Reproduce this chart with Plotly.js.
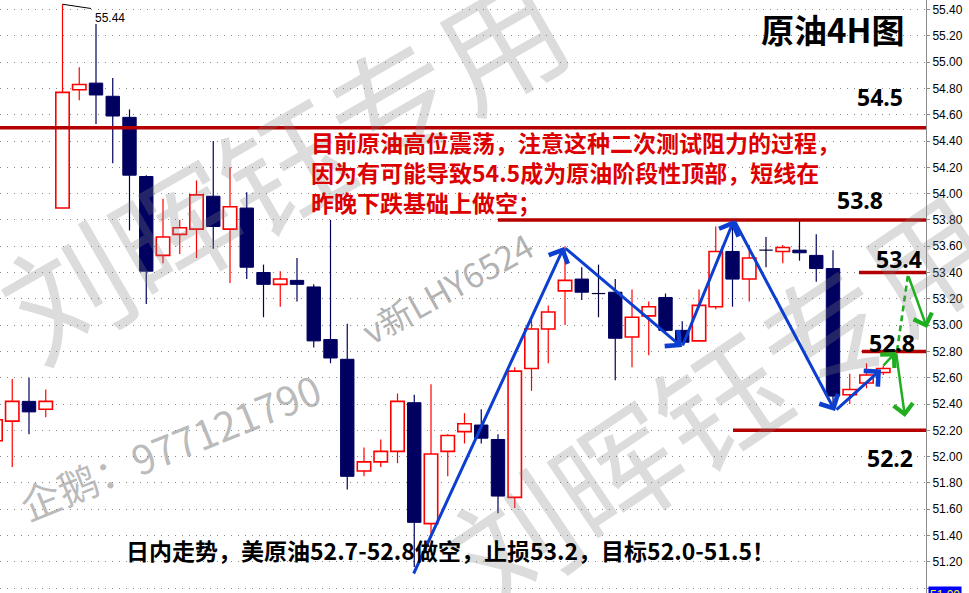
<!DOCTYPE html>
<html>
<head>
<meta charset="utf-8">
<script src="https://cdn.plot.ly/plotly-3.0.1.min.js"></script>
<style>
html,body{margin:0;padding:0;background:#fff;overflow:hidden}
#chart{width:969px;height:593px}
</style>
</head>
<body>
<div id="chart"></div>
<script>
// ---- data: crude oil 4H candles ----
const openP  = [52.12,52.27,52.42,52.36,53.89,54.79,54.84,54.74,54.58,54.13,
                53.53,53.69,53.73,53.98,53.73,53.89,53.40,53.31,53.34,53.29,
                52.89,52.74,51.89,51.96,52.04,52.41,51.49,52.04,52.19,52.24,
                52.13,51.69,52.67,52.97,53.26,53.35,53.24,53.25,52.91,53.07,
                53.21,52.96,52.88,53.14,53.56,53.35,53.57,53.56,53.57,53.53,
                53.43,52.47,52.56,52.64];
const highP  = [52.30,52.59,52.60,52.51,55.44,54.96,55.29,54.88,54.64,54.14,
                53.96,53.80,54.10,54.40,54.20,54.01,53.46,53.41,53.51,53.31,
                53.80,53.01,52.07,52.13,52.48,52.47,52.55,52.17,52.33,52.36,
                52.17,52.68,53.04,53.15,53.60,53.44,53.46,53.35,53.27,53.18,
                53.24,53.03,53.27,53.75,53.80,53.61,53.67,53.61,53.79,53.69,
                53.57,52.63,52.71,52.69];
const lowP   = [52.05,51.92,52.17,52.30,53.89,54.71,54.53,54.23,53.72,53.16,
                53.47,53.54,53.51,53.58,53.32,53.35,53.06,53.14,53.18,52.83,
                52.71,51.75,51.85,51.92,51.95,51.16,51.40,51.85,52.10,52.10,
                51.57,51.61,52.50,52.71,53.00,53.19,53.06,52.58,52.68,52.77,
                52.94,52.86,52.88,53.12,53.14,53.18,53.44,53.47,53.49,53.33,
                52.39,52.40,52.52,52.62];
const closeP = [52.28,52.42,52.34,52.42,54.77,54.83,54.75,54.59,54.14,53.41,
                53.67,53.74,53.99,53.75,53.90,53.44,53.31,53.35,53.31,52.88,
                52.75,51.85,51.96,52.04,52.42,51.50,52.02,52.16,52.25,52.14,
                51.70,52.65,52.97,53.10,53.34,53.25,53.24,52.90,53.06,53.14,
                52.96,52.87,53.15,53.56,53.35,53.51,53.57,53.59,53.55,53.43,
                52.46,52.51,52.62,52.67];
const peakValue   = 55.44;
const peakLabel   = '55.44';
const levels      = [54.5, 53.8, 53.4, 52.8, 52.2];
const levelLabels = ['54.5', '53.8', '53.4', '52.8', '52.2'];
const title       = '原油4H图';
const noteLines   = ['目前原油高位震荡，注意这种二次测试阻力的过程，',
                     '因为有可能导致54.5成为原油阶段性顶部，短线在',
                     '昨晚下跌基础上做空；'];
const planText    = '日内走势，美原油52.7-52.8做空，止损53.2，目标52.0-51.5！';
const watermarkA  = '刘晖钰专用';
const watermarkB  = 'v新LHY6524';
const watermarkC  = '企鹅：977121790';
const lastBoxLabel = '51.00';

// ---- geometry helpers (pixel -> axis units for the hand-drawn overlays) ----
const X0PX = -4.5, XSTEP = 16.75, YREFV = 55.4, YREFPX = 9.5, PPU = 131.5, PLOTW = 926, PLOTH = 593;
const px2x = p => (p - X0PX) / XSTEP;
const py2y = p => YREFV - (p - YREFPX) / PPU;
const pxp = p => p / PLOTW;
const pyp = p => 1 - p / PLOTH;

const RED = '#ff0000', NAVY = '#000060', DOJI = '#000030';
const LVL = '#b40000', BLUE = '#0c3fd0', GREEN = '#1fae1f';

const idx = openP.map((_, i) => i);
const up = idx.filter(i => closeP[i] > openP[i]);
const dn = idx.filter(i => closeP[i] < openP[i]);
const dj = idx.filter(i => closeP[i] === openP[i]);

function wicks(list) {
  const x = [], y = [];
  list.forEach(i => {
    const t = Math.max(openP[i], closeP[i]), b = Math.min(openP[i], closeP[i]);
    if (highP[i] > t) { x.push(i, i, null); y.push(t, highP[i], null); }
    if (lowP[i] < b) { x.push(i, i, null); y.push(b, lowP[i], null); }
  });
  return {x, y};
}
const BW = 0.8;
const wu = wicks(up), wd = wicks(dn);
const djx = [], djy = [];
dj.forEach(i => {
  djx.push(i, i, null, i - BW / 2, i + BW / 2, null);
  djy.push(lowP[i], highP[i], null, openP[i], openP[i], null);
});

const traces = [
  {type:'scatter', mode:'lines', x:wu.x, y:wu.y, line:{color:RED, width:1.2}, hoverinfo:'skip'},
  {type:'scatter', mode:'lines', x:wd.x, y:wd.y, line:{color:NAVY, width:1.2}, hoverinfo:'skip'},
  {type:'scatter', mode:'lines', x:djx, y:djy, line:{color:DOJI, width:1.2}, hoverinfo:'skip'},
  {type:'bar', x:up, y:up.map(i => closeP[i] - openP[i]), base:up.map(i => openP[i]), width:BW,
   marker:{color:'#ffffff', line:{color:RED, width:1.6}}, hoverinfo:'skip'},
  {type:'bar', x:dn, y:dn.map(i => openP[i] - closeP[i]), base:dn.map(i => closeP[i]), width:BW,
   marker:{color:NAVY, line:{color:NAVY, width:1}}, hoverinfo:'skip'}
];

// dashed green projection segment
const gDashA = [897, 351], gDashB = [908, 275];
traces.push({type:'scatter', mode:'lines', x:[px2x(gDashA[0]), px2x(gDashB[0])], y:[py2y(gDashA[1]), py2y(gDashB[1])],
  line:{color:GREEN, width:2.6, dash:'6px,4px'}, hoverinfo:'skip', cliponaxis:false});

// ---- level lines ----
const levelStartPx = [0, 498, 859, 862, 733];
const shapes = levels.map((v, k) => ({
  type:'line', xref:'x', yref:'y', x0:px2x(levelStartPx[k]), x1:px2x(PLOTW), y0:v, y1:v,
  line:{color:LVL, width:3.5}
}));
shapes.push({type:'line', xref:'x', yref:'y', x0:4, y0:peakValue, x1:px2x(91), y1:py2y(8.5), line:{color:'#000', width:1}});

// ---- annotations ----
const annotations = [];
const wmFont = (s, a) => ({family:'Noto Sans CJK SC, sans-serif', size:s, color:`rgba(128,128,128,${a})`});
const centered = (px, py, text, font, extra) => Object.assign({xref:'paper', yref:'paper', x:pxp(px), y:pyp(py),
  xanchor:'center', yanchor:'middle', text, showarrow:false, font}, extra || {});
annotations.push(centered(281, 162, watermarkA, wmFont(125, 0.28), {textangle:-30}));
annotations.push(centered(717, 397, watermarkA, wmFont(125, 0.28), {textangle:-34}));
annotations.push(centered(447, 288, watermarkB, wmFont(34, 0.6), {textangle:-29}));
annotations.push(centered(170, 446, watermarkC, wmFont(40, 0.55), {textangle:-22}));

// blue zig-zag arrows
const blueZig = [[413,575],[564,247],[682,347],[734,220],[835,411],[881,369.5]];
for (let k = 0; k < blueZig.length - 1; k++) {
  annotations.push({xref:'x', yref:'y', axref:'x', ayref:'y',
    x:px2x(blueZig[k+1][0]), y:py2y(blueZig[k+1][1]), ax:px2x(blueZig[k][0]), ay:py2y(blueZig[k][1]),
    text:'', showarrow:true, arrowhead:4, arrowsize:1.35, arrowwidth:3, arrowcolor:BLUE});
}
// green arrows
const greenArrows = [[[882,367],[896,352]], [[896,352],[905,417]], [[908,275],[927,328]]];
greenArrows.forEach(([a, b]) => annotations.push({xref:'x', yref:'y', axref:'x', ayref:'y',
  x:px2x(b[0]), y:py2y(b[1]), ax:px2x(a[0]), ay:py2y(a[1]),
  text:'', showarrow:true, arrowhead:4, arrowsize:1.5, arrowwidth:2.5, arrowcolor:GREEN}));

// level labels
const levelLabelPos = [[880,97],[860,200],[898.5,259],[892,343],[890,458]];
levelLabels.forEach((t, k) => annotations.push(centered(levelLabelPos[k][0], levelLabelPos[k][1], t,
  {family:'Noto Sans, sans-serif', size:23, color:'#000', weight:700})));

// title
annotations.push(centered(832, 29, title, {family:'Noto Sans CJK SC, sans-serif', size:33, color:'#000', weight:700}));
// red note
annotations.push({xref:'paper', yref:'paper', x:pxp(309), y:pyp(172), xanchor:'left', yanchor:'middle', align:'left',
  text:noteLines.join('<br>'), showarrow:false,
  font:{family:'Noto Sans CJK SC, sans-serif', size:23, color:'#dd0000', weight:700}});
// bottom plan
annotations.push({xref:'paper', yref:'paper', x:pxp(124), y:pyp(550), xanchor:'left', yanchor:'middle',
  text:planText, showarrow:false,
  font:{family:'Noto Sans CJK SC, sans-serif', size:23, color:'#000', weight:700}});
// peak label
annotations.push({xref:'paper', yref:'paper', x:pxp(93), y:pyp(17.5), xanchor:'left', yanchor:'middle',
  text:peakLabel, showarrow:false, font:{family:'Liberation Sans, Arial, sans-serif', size:12, color:'#000'}});
// bottom-right price box
annotations.push({xref:'paper', yref:'paper', x:pxp(928), y:pyp(595), xanchor:'left', yanchor:'middle',
  text:lastBoxLabel, showarrow:false, bgcolor:'#0000ff', borderpad:1,
  font:{family:'Liberation Sans, Arial, sans-serif', size:12, color:'#ffff00'}});

const layout = {
  width:969, height:593,
  margin:{l:0, r:43, t:0, b:0, pad:0},
  paper_bgcolor:'#ffffff', plot_bgcolor:'#ffffff',
  showlegend:false, barmode:'overlay', bargap:0,
  xaxis:{range:[px2x(0), px2x(PLOTW)], visible:false, fixedrange:true},
  yaxis:{side:'right', range:[py2y(PLOTH), py2y(0)], dtick:0.2, tick0:0, tickformat:'.2f',
    showgrid:true, gridcolor:'#8a8a8a', griddash:'1px,6px', gridwidth:1, zeroline:false,
    showline:true, linecolor:'#8c8c8c', linewidth:1, ticks:'outside', ticklen:3, tickcolor:'#8c8c8c',
    tickfont:{family:'Liberation Sans, Arial, sans-serif', size:12, color:'#000'}, fixedrange:true},
  shapes, annotations
};
Plotly.newPlot('chart', traces, layout, {staticPlot:true, displayModeBar:false});
</script>
</body>
</html>
